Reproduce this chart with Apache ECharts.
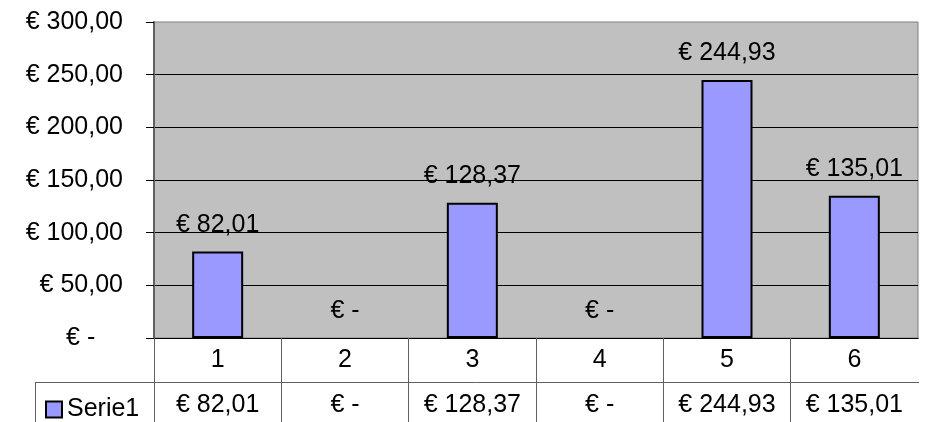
<!DOCTYPE html>
<html>
<head>
<meta charset="utf-8">
<script src="https://cdn.jsdelivr.net/npm/echarts@6/dist/echarts.min.js"></script>
<style>
  html, body { margin: 0; padding: 0; background: #fff; }
  #chart { width: 934px; height: 422px; }
</style>
</head>
<body>
<div id="chart"></div>
<script>
// categorie e valori
var categorie = ['1', '2', '3', '4', '5', '6'];
var valori = [82.01, 0, 128.37, 0, 244.93, 135.01];
var nomeSerie = 'Serie1';

// formato contabile: € 82,01 / € -
function euro(v) {
  if (!v) return '€ -';
  return '€ ' + v.toFixed(2).replace('.', ',');
}

var font = "'Liberation Sans', Arial, sans-serif";
var myChart = echarts.init(document.getElementById('chart'));

// le barre a zero non hanno bordo
var datiBarre = valori.map(function (v) {
  return v ? v : { value: v, itemStyle: { borderWidth: 0 } };
});

var option = {
  animation: false,
  textStyle: { fontFamily: font, color: '#000' },
  grid: {
    left: 154, right: 16, top: 22, bottom: 84,
    show: true,
    backgroundColor: '#c0c0c0',
    borderColor: '#808080',
    borderWidth: 1
  },
  legend: {
    data: [nomeSerie],
    left: 40,
    top: 392,
    icon: 'rect',
    itemWidth: 16,
    itemHeight: 16,
    itemGap: 6,
    itemStyle: { color: '#9999ff', borderColor: '#000', borderWidth: 2 },
    textStyle: { fontFamily: font, fontSize: 25, color: '#000' }
  },
  xAxis: {
    type: 'category',
    data: categorie,
    axisLine: { show: true, lineStyle: { color: '#000', width: 1 } },
    axisTick: { show: true, length: 84, lineStyle: { color: '#606060', width: 1 } },
    axisLabel: {
      margin: 0,
      interval: 0,
      formatter: function (val, idx) {
        return '{c|' + val + '}\n{v|' + euro(valori[idx]) + '}';
      },
      rich: {
        c: { fontFamily: font, fontSize: 25, lineHeight: 45, color: '#000' },
        v: { fontFamily: font, fontSize: 25, lineHeight: 45, color: '#000' }
      }
    }
  },
  yAxis: {
    type: 'value',
    min: 0,
    max: 300,
    interval: 50,
    axisLine: { show: true, lineStyle: { color: '#606060', width: 2 } },
    axisTick: { show: true, inside: false, length: 8, lineStyle: { color: '#000' } },
    splitLine: { show: true, showMaxLine: false, lineStyle: { color: '#000', width: 1 } },
    axisLabel: {
      margin: 31,
      fontFamily: font,
      fontSize: 25,
      color: '#000',
      formatter: function (v) {
        return v === 0 ? '€ -    ' : euro(v);
      }
    }
  },
  series: [
    {
      name: nomeSerie,
      type: 'bar',
      data: datiBarre,
      barWidth: 51,
      itemStyle: { color: '#9999ff', borderColor: '#000', borderWidth: 2 },
      label: {
        show: true,
        position: 'top',
        distance: 14,
        fontFamily: font,
        fontSize: 25,
        color: '#000',
        formatter: function (p) { return euro(p.value); }
      }
    }
  ],
  // righe della tabella dati
  graphic: [
    { type: 'line', shape: { x1: 35, y1: 382.5, x2: 918, y2: 382.5 }, style: { stroke: '#606060', lineWidth: 1 } },
    { type: 'line', shape: { x1: 35.5, y1: 382, x2: 35.5, y2: 422 }, style: { stroke: '#606060', lineWidth: 1 } },
    // niente bordo destro nella tabella
    { type: 'rect', shape: { x: 917, y: 339, width: 6, height: 43 }, style: { fill: '#fff' }, z: 100 },
    { type: 'rect', shape: { x: 917, y: 383, width: 6, height: 40 }, style: { fill: '#fff' }, z: 100 }
  ]
};

myChart.setOption(option);
</script>
</body>
</html>
